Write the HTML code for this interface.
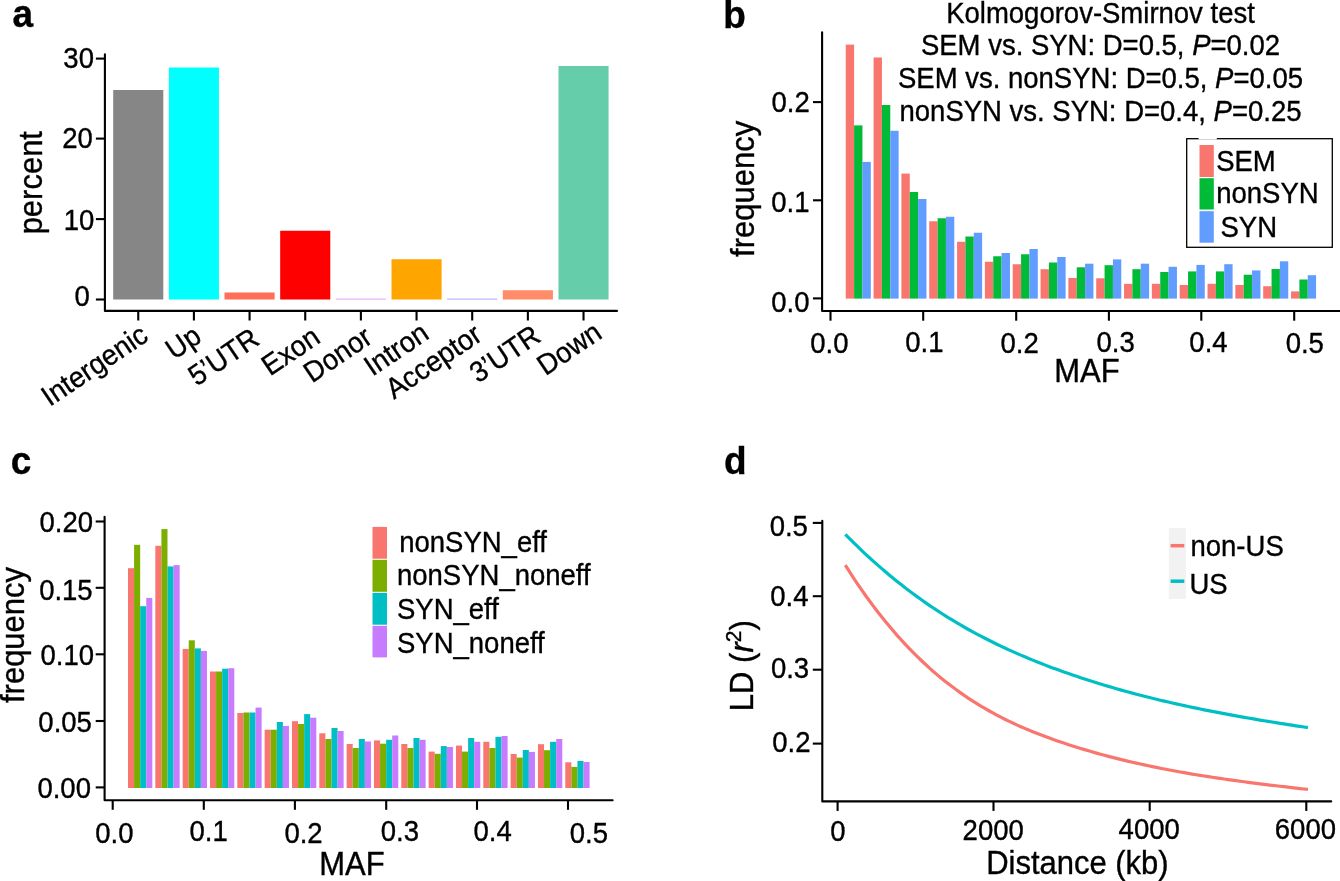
<!DOCTYPE html>
<html><head><meta charset="utf-8"><style>
html,body{margin:0;padding:0;background:#fff;width:1340px;height:881px;overflow:hidden}
svg{display:block;will-change:transform}
text{font-family:"Liberation Sans",sans-serif;fill:#000;stroke:#000;stroke-width:0.35px}
</style></head><body>
<svg width="1340" height="881" viewBox="0 0 1340 881">
<rect width="1340" height="881" fill="#fff"/>
<text transform="translate(12.50,27.48) scale(1,1.05)" font-size="37" text-anchor="start" font-weight="bold">a</text>
<path d="M104.90,54.40 L104.90,310.90 L617.00,310.90" fill="none" stroke="#000" stroke-width="2.1" stroke-linejoin="round" stroke-linecap="round"/>
<line x1="95.90" y1="299.50" x2="104.90" y2="299.50" stroke="#000" stroke-width="2.1" stroke-linecap="butt"/>
<text transform="translate(74.40,306.44) scale(1,1.05)" font-size="27.5" text-anchor="start" font-weight="normal">0</text>
<line x1="95.90" y1="219.10" x2="104.90" y2="219.10" stroke="#000" stroke-width="2.1" stroke-linecap="butt"/>
<text transform="translate(63.78,229.88) scale(1,1.05)" font-size="27.5" text-anchor="start" font-weight="normal">10</text>
<line x1="95.90" y1="138.60" x2="104.90" y2="138.60" stroke="#000" stroke-width="2.1" stroke-linecap="butt"/>
<text transform="translate(62.24,148.44) scale(1,1.05)" font-size="27.5" text-anchor="start" font-weight="normal">20</text>
<line x1="95.90" y1="58.60" x2="104.90" y2="58.60" stroke="#000" stroke-width="2.1" stroke-linecap="butt"/>
<text transform="translate(63.34,68.44) scale(1,1.05)" font-size="27.5" text-anchor="start" font-weight="normal">30</text>
<text transform="translate(41.80,182.70) rotate(-90) scale(1,1.05)" font-size="31" text-anchor="middle" font-weight="normal">percent</text>
<rect x="113.20" y="90.00" width="50.10" height="209.50" fill="#868686"/>
<line x1="138.25" y1="310.90" x2="138.25" y2="320.50" stroke="#000" stroke-width="2.1" stroke-linecap="butt"/>
<text font-size="27.5" text-anchor="end" transform="translate(138.75,323.00) rotate(-34) scale(1,1.05)" y="19">Intergenic</text>
<rect x="168.86" y="67.50" width="50.10" height="232.00" fill="#00FFFF"/>
<line x1="193.91" y1="310.90" x2="193.91" y2="320.50" stroke="#000" stroke-width="2.1" stroke-linecap="butt"/>
<text font-size="27.5" text-anchor="end" transform="translate(192.11,324.00) rotate(-34) scale(1,1.05)" y="19">Up</text>
<rect x="224.52" y="292.50" width="50.10" height="7.00" fill="#FF6E59"/>
<line x1="249.57" y1="310.90" x2="249.57" y2="320.50" stroke="#000" stroke-width="2.1" stroke-linecap="butt"/>
<text font-size="27.5" text-anchor="end" transform="translate(250.07,326.60) rotate(-34) scale(1,1.05)" y="19">5’UTR</text>
<rect x="280.18" y="230.75" width="50.10" height="68.75" fill="#FF0000"/>
<line x1="305.23" y1="310.90" x2="305.23" y2="320.50" stroke="#000" stroke-width="2.1" stroke-linecap="butt"/>
<text font-size="27.5" text-anchor="end" transform="translate(310.73,325.00) rotate(-34) scale(1,1.05)" y="19">Exon</text>
<rect x="335.84" y="298.60" width="50.10" height="1.00" fill="#E8A0F8"/>
<line x1="360.89" y1="310.90" x2="360.89" y2="320.50" stroke="#000" stroke-width="2.1" stroke-linecap="butt"/>
<text font-size="27.5" text-anchor="end" transform="translate(362.89,325.00) rotate(-34) scale(1,1.05)" y="19">Donor</text>
<rect x="391.50" y="259.25" width="50.10" height="40.25" fill="#FFA500"/>
<line x1="416.55" y1="310.90" x2="416.55" y2="320.50" stroke="#000" stroke-width="2.1" stroke-linecap="butt"/>
<text font-size="27.5" text-anchor="end" transform="translate(419.65,321.00) rotate(-34) scale(1,1.05)" y="19">Intron</text>
<rect x="447.16" y="298.60" width="50.10" height="1.00" fill="#A8A8FF"/>
<line x1="472.21" y1="310.90" x2="472.21" y2="320.50" stroke="#000" stroke-width="2.1" stroke-linecap="butt"/>
<text font-size="27.5" text-anchor="end" transform="translate(472.71,322.50) rotate(-34) scale(1,1.05)" y="19">Acceptor</text>
<rect x="502.82" y="290.25" width="50.10" height="9.25" fill="#FF8C69"/>
<line x1="527.87" y1="310.90" x2="527.87" y2="320.50" stroke="#000" stroke-width="2.1" stroke-linecap="butt"/>
<text font-size="27.5" text-anchor="end" transform="translate(531.37,323.70) rotate(-34) scale(1,1.05)" y="19">3’UTR</text>
<rect x="558.48" y="66.00" width="50.10" height="233.50" fill="#66CDAA"/>
<line x1="583.53" y1="310.90" x2="583.53" y2="320.50" stroke="#000" stroke-width="2.1" stroke-linecap="butt"/>
<text font-size="27.5" text-anchor="end" transform="translate(592.53,320.40) rotate(-34) scale(1,1.05)" y="19">Down</text>
<text transform="translate(723.32,27.50) scale(1,1.05)" font-size="37" text-anchor="start" font-weight="bold">b</text>
<path d="M822.10,32.20 L822.10,310.95 L1341.00,310.95" fill="none" stroke="#000" stroke-width="2.1" stroke-linejoin="round" stroke-linecap="round"/>
<line x1="813.00" y1="298.40" x2="822.10" y2="298.40" stroke="#000" stroke-width="2.1" stroke-linecap="butt"/>
<text transform="translate(771.32,312.00) scale(1,1.05)" font-size="27.5" text-anchor="start" font-weight="normal">0.0</text>
<line x1="813.00" y1="200.30" x2="822.10" y2="200.30" stroke="#000" stroke-width="2.1" stroke-linecap="butt"/>
<text transform="translate(771.24,212.00) scale(1,1.05)" font-size="27.5" text-anchor="start" font-weight="normal">0.1</text>
<line x1="813.00" y1="102.10" x2="822.10" y2="102.10" stroke="#000" stroke-width="2.1" stroke-linecap="butt"/>
<text transform="translate(771.52,111.66) scale(1,1.05)" font-size="27.5" text-anchor="start" font-weight="normal">0.2</text>
<line x1="830.50" y1="310.95" x2="830.50" y2="320.70" stroke="#000" stroke-width="2.1" stroke-linecap="butt"/>
<text transform="translate(810.32,353.34) scale(1,1.05)" font-size="27.5" text-anchor="start" font-weight="normal">0.0</text>
<line x1="923.20" y1="310.95" x2="923.20" y2="320.70" stroke="#000" stroke-width="2.1" stroke-linecap="butt"/>
<text transform="translate(905.24,351.88) scale(1,1.05)" font-size="27.5" text-anchor="start" font-weight="normal">0.1</text>
<line x1="1016.20" y1="310.95" x2="1016.20" y2="320.70" stroke="#000" stroke-width="2.1" stroke-linecap="butt"/>
<text transform="translate(1000.46,353.34) scale(1,1.05)" font-size="27.5" text-anchor="start" font-weight="normal">0.2</text>
<line x1="1108.90" y1="310.95" x2="1108.90" y2="320.70" stroke="#000" stroke-width="2.1" stroke-linecap="butt"/>
<text transform="translate(1096.48,351.56) scale(1,1.05)" font-size="27.5" text-anchor="start" font-weight="normal">0.3</text>
<line x1="1201.30" y1="310.95" x2="1201.30" y2="320.70" stroke="#000" stroke-width="2.1" stroke-linecap="butt"/>
<text transform="translate(1189.34,352.12) scale(1,1.05)" font-size="27.5" text-anchor="start" font-weight="normal">0.4</text>
<line x1="1294.20" y1="310.95" x2="1294.20" y2="320.70" stroke="#000" stroke-width="2.1" stroke-linecap="butt"/>
<text transform="translate(1285.66,353.34) scale(1,1.05)" font-size="27.5" text-anchor="start" font-weight="normal">0.5</text>
<text transform="translate(1087.00,381.70) scale(1,1.05)" font-size="31" text-anchor="middle" font-weight="normal">MAF</text>
<text transform="translate(753.70,188.90) rotate(-90) scale(1,1.05)" font-size="31" text-anchor="middle" font-weight="normal">frequency</text>
<rect x="845.75" y="44.60" width="8.35" height="254.00" fill="#F8766D"/>
<rect x="854.10" y="125.40" width="8.35" height="173.20" fill="#00BA38"/>
<rect x="862.45" y="161.90" width="8.35" height="136.70" fill="#619CFF"/>
<rect x="873.58" y="57.50" width="8.35" height="241.10" fill="#F8766D"/>
<rect x="881.93" y="105.00" width="8.35" height="193.60" fill="#00BA38"/>
<rect x="890.28" y="130.80" width="8.35" height="167.80" fill="#619CFF"/>
<rect x="901.41" y="173.60" width="8.35" height="125.00" fill="#F8766D"/>
<rect x="909.76" y="192.00" width="8.35" height="106.60" fill="#00BA38"/>
<rect x="918.11" y="199.00" width="8.35" height="99.60" fill="#619CFF"/>
<rect x="929.24" y="221.25" width="8.35" height="77.35" fill="#F8766D"/>
<rect x="937.59" y="218.25" width="8.35" height="80.35" fill="#00BA38"/>
<rect x="945.94" y="216.75" width="8.35" height="81.85" fill="#619CFF"/>
<rect x="957.07" y="241.75" width="8.35" height="56.85" fill="#F8766D"/>
<rect x="965.42" y="236.50" width="8.35" height="62.10" fill="#00BA38"/>
<rect x="973.77" y="232.75" width="8.35" height="65.85" fill="#619CFF"/>
<rect x="984.90" y="261.75" width="8.35" height="36.85" fill="#F8766D"/>
<rect x="993.25" y="256.25" width="8.35" height="42.35" fill="#00BA38"/>
<rect x="1001.60" y="253.00" width="8.35" height="45.60" fill="#619CFF"/>
<rect x="1012.73" y="264.25" width="8.35" height="34.35" fill="#F8766D"/>
<rect x="1021.08" y="254.25" width="8.35" height="44.35" fill="#00BA38"/>
<rect x="1029.43" y="249.00" width="8.35" height="49.60" fill="#619CFF"/>
<rect x="1040.56" y="269.20" width="8.35" height="29.40" fill="#F8766D"/>
<rect x="1048.91" y="262.50" width="8.35" height="36.10" fill="#00BA38"/>
<rect x="1057.26" y="257.00" width="8.35" height="41.60" fill="#619CFF"/>
<rect x="1068.39" y="278.00" width="8.35" height="20.60" fill="#F8766D"/>
<rect x="1076.74" y="267.30" width="8.35" height="31.30" fill="#00BA38"/>
<rect x="1085.09" y="263.70" width="8.35" height="34.90" fill="#619CFF"/>
<rect x="1096.22" y="278.30" width="8.35" height="20.30" fill="#F8766D"/>
<rect x="1104.57" y="265.20" width="8.35" height="33.40" fill="#00BA38"/>
<rect x="1112.92" y="259.40" width="8.35" height="39.20" fill="#619CFF"/>
<rect x="1124.05" y="283.80" width="8.35" height="14.80" fill="#F8766D"/>
<rect x="1132.40" y="269.20" width="8.35" height="29.40" fill="#00BA38"/>
<rect x="1140.75" y="263.70" width="8.35" height="34.90" fill="#619CFF"/>
<rect x="1151.88" y="283.80" width="8.35" height="14.80" fill="#F8766D"/>
<rect x="1160.23" y="272.00" width="8.35" height="26.60" fill="#00BA38"/>
<rect x="1168.58" y="266.80" width="8.35" height="31.80" fill="#619CFF"/>
<rect x="1179.71" y="285.00" width="8.35" height="13.60" fill="#F8766D"/>
<rect x="1188.06" y="271.40" width="8.35" height="27.20" fill="#00BA38"/>
<rect x="1196.41" y="264.90" width="8.35" height="33.70" fill="#619CFF"/>
<rect x="1207.54" y="283.80" width="8.35" height="14.80" fill="#F8766D"/>
<rect x="1215.89" y="271.40" width="8.35" height="27.20" fill="#00BA38"/>
<rect x="1224.24" y="264.20" width="8.35" height="34.40" fill="#619CFF"/>
<rect x="1235.37" y="285.00" width="8.35" height="13.60" fill="#F8766D"/>
<rect x="1243.72" y="274.70" width="8.35" height="23.90" fill="#00BA38"/>
<rect x="1252.07" y="270.40" width="8.35" height="28.20" fill="#619CFF"/>
<rect x="1263.20" y="286.20" width="8.35" height="12.40" fill="#F8766D"/>
<rect x="1271.55" y="269.00" width="8.35" height="29.60" fill="#00BA38"/>
<rect x="1279.90" y="261.30" width="8.35" height="37.30" fill="#619CFF"/>
<rect x="1291.03" y="291.40" width="8.35" height="7.20" fill="#F8766D"/>
<rect x="1299.38" y="279.50" width="8.35" height="19.10" fill="#00BA38"/>
<rect x="1307.73" y="275.20" width="8.35" height="23.40" fill="#619CFF"/>
<text transform="translate(1100.50,22.70) scale(1,1.05)" font-size="27.5" text-anchor="middle" font-weight="normal">Kolmogorov-Smirnov test</text>
<text transform="translate(1100.50,55.00) scale(1,1.05)" font-size="27.5" text-anchor="middle" font-weight="normal">SEM vs. SYN: D=0.5, <tspan font-style="italic">P</tspan>=0.02</text>
<text transform="translate(1100.50,87.90) scale(1,1.05)" font-size="27.5" text-anchor="middle" font-weight="normal">SEM vs. nonSYN: D=0.5, <tspan font-style="italic">P</tspan>=0.05</text>
<text transform="translate(1100.50,120.60) scale(1,1.05)" font-size="27.5" text-anchor="middle" font-weight="normal">nonSYN vs. SYN: D=0.4, <tspan font-style="italic">P</tspan>=0.25</text>
<rect x="1186.7" y="138.7" width="145.6" height="108.6" fill="#fff" stroke="#000" stroke-width="1.3"/>
<rect x="1198.60" y="137.50" width="18.20" height="2.00" fill="#fff"/>
<rect x="1199.50" y="145.00" width="14.30" height="32.00" fill="#F8766D"/>
<text transform="translate(1216.20,171.10) scale(1,1.05)" font-size="27.5" text-anchor="start" font-weight="normal">SEM</text>
<rect x="1199.50" y="178.20" width="14.30" height="31.30" fill="#00BA38"/>
<text transform="translate(1216.20,202.60) scale(1,1.05)" font-size="27.5" text-anchor="start" font-weight="normal">nonSYN</text>
<rect x="1199.50" y="211.20" width="14.30" height="31.50" fill="#619CFF"/>
<text transform="translate(1220.50,236.80) scale(1,1.05)" font-size="27.5" text-anchor="start" font-weight="normal">SYN</text>
<text transform="translate(10.76,473.96) scale(1,1.05)" font-size="37" text-anchor="start" font-weight="bold">c</text>
<path d="M104.60,516.80 L104.60,800.20 L612.60,800.20" fill="none" stroke="#000" stroke-width="2.1" stroke-linejoin="round" stroke-linecap="round"/>
<line x1="95.70" y1="787.40" x2="104.60" y2="787.40" stroke="#000" stroke-width="2.1" stroke-linecap="butt"/>
<text transform="translate(37.44,797.66) scale(1,1.05)" font-size="27.5" text-anchor="start" font-weight="normal">0.00</text>
<line x1="95.70" y1="721.00" x2="104.60" y2="721.00" stroke="#000" stroke-width="2.1" stroke-linecap="butt"/>
<text transform="translate(38.34,731.66) scale(1,1.05)" font-size="27.5" text-anchor="start" font-weight="normal">0.05</text>
<line x1="95.70" y1="654.30" x2="104.60" y2="654.30" stroke="#000" stroke-width="2.1" stroke-linecap="butt"/>
<text transform="translate(40.48,664.88) scale(1,1.05)" font-size="27.5" text-anchor="start" font-weight="normal">0.10</text>
<line x1="95.70" y1="587.80" x2="104.60" y2="587.80" stroke="#000" stroke-width="2.1" stroke-linecap="butt"/>
<text transform="translate(39.14,600.22) scale(1,1.05)" font-size="27.5" text-anchor="start" font-weight="normal">0.15</text>
<line x1="95.70" y1="521.50" x2="104.60" y2="521.50" stroke="#000" stroke-width="2.1" stroke-linecap="butt"/>
<text transform="translate(39.46,531.88) scale(1,1.05)" font-size="27.5" text-anchor="start" font-weight="normal">0.20</text>
<line x1="112.70" y1="800.20" x2="112.70" y2="809.80" stroke="#000" stroke-width="2.1" stroke-linecap="butt"/>
<text transform="translate(95.22,843.12) scale(1,1.05)" font-size="27.5" text-anchor="start" font-weight="normal">0.0</text>
<line x1="203.80" y1="800.20" x2="203.80" y2="809.80" stroke="#000" stroke-width="2.1" stroke-linecap="butt"/>
<text transform="translate(189.58,841.10) scale(1,1.05)" font-size="27.5" text-anchor="start" font-weight="normal">0.1</text>
<line x1="294.90" y1="800.20" x2="294.90" y2="809.80" stroke="#000" stroke-width="2.1" stroke-linecap="butt"/>
<text transform="translate(284.40,843.12) scale(1,1.05)" font-size="27.5" text-anchor="start" font-weight="normal">0.2</text>
<line x1="386.20" y1="800.20" x2="386.20" y2="809.80" stroke="#000" stroke-width="2.1" stroke-linecap="butt"/>
<text transform="translate(380.74,841.10) scale(1,1.05)" font-size="27.5" text-anchor="start" font-weight="normal">0.3</text>
<line x1="477.00" y1="800.20" x2="477.00" y2="809.80" stroke="#000" stroke-width="2.1" stroke-linecap="butt"/>
<text transform="translate(473.52,841.10) scale(1,1.05)" font-size="27.5" text-anchor="start" font-weight="normal">0.4</text>
<line x1="568.00" y1="800.20" x2="568.00" y2="809.80" stroke="#000" stroke-width="2.1" stroke-linecap="butt"/>
<text transform="translate(569.80,843.12) scale(1,1.05)" font-size="27.5" text-anchor="start" font-weight="normal">0.5</text>
<text transform="translate(352.00,875.20) scale(1,1.05)" font-size="31" text-anchor="middle" font-weight="normal">MAF</text>
<text transform="translate(24.00,635.00) rotate(-90) scale(1,1.05)" font-size="31" text-anchor="middle" font-weight="normal">frequency</text>
<rect x="128.00" y="568.20" width="6.08" height="219.80" fill="#F8766D"/>
<rect x="134.08" y="544.80" width="6.08" height="243.20" fill="#7CAE00"/>
<rect x="140.16" y="606.20" width="6.08" height="181.80" fill="#00BFC4"/>
<rect x="146.24" y="597.90" width="6.08" height="190.10" fill="#C77CFF"/>
<rect x="155.33" y="545.80" width="6.08" height="242.20" fill="#F8766D"/>
<rect x="161.41" y="529.10" width="6.08" height="258.90" fill="#7CAE00"/>
<rect x="167.49" y="566.40" width="6.08" height="221.60" fill="#00BFC4"/>
<rect x="173.57" y="565.10" width="6.08" height="222.90" fill="#C77CFF"/>
<rect x="182.66" y="648.90" width="6.08" height="139.10" fill="#F8766D"/>
<rect x="188.74" y="640.30" width="6.08" height="147.70" fill="#7CAE00"/>
<rect x="194.82" y="648.40" width="6.08" height="139.60" fill="#00BFC4"/>
<rect x="200.90" y="650.90" width="6.08" height="137.10" fill="#C77CFF"/>
<rect x="209.99" y="671.50" width="6.08" height="116.50" fill="#F8766D"/>
<rect x="216.07" y="671.50" width="6.08" height="116.50" fill="#7CAE00"/>
<rect x="222.15" y="668.70" width="6.08" height="119.30" fill="#00BFC4"/>
<rect x="228.23" y="668.20" width="6.08" height="119.80" fill="#C77CFF"/>
<rect x="237.32" y="713.00" width="6.08" height="75.00" fill="#F8766D"/>
<rect x="243.40" y="712.50" width="6.08" height="75.50" fill="#7CAE00"/>
<rect x="249.48" y="712.50" width="6.08" height="75.50" fill="#00BFC4"/>
<rect x="255.56" y="707.60" width="6.08" height="80.40" fill="#C77CFF"/>
<rect x="264.65" y="729.70" width="6.08" height="58.30" fill="#F8766D"/>
<rect x="270.73" y="729.70" width="6.08" height="58.30" fill="#7CAE00"/>
<rect x="276.81" y="722.00" width="6.08" height="66.00" fill="#00BFC4"/>
<rect x="282.89" y="725.90" width="6.08" height="62.10" fill="#C77CFF"/>
<rect x="291.98" y="721.20" width="6.08" height="66.80" fill="#F8766D"/>
<rect x="298.06" y="724.00" width="6.08" height="64.00" fill="#7CAE00"/>
<rect x="304.14" y="714.10" width="6.08" height="73.90" fill="#00BFC4"/>
<rect x="310.22" y="717.70" width="6.08" height="70.30" fill="#C77CFF"/>
<rect x="319.31" y="733.30" width="6.08" height="54.70" fill="#F8766D"/>
<rect x="325.39" y="739.00" width="6.08" height="49.00" fill="#7CAE00"/>
<rect x="331.47" y="728.00" width="6.08" height="60.00" fill="#00BFC4"/>
<rect x="337.55" y="731.00" width="6.08" height="57.00" fill="#C77CFF"/>
<rect x="346.64" y="744.00" width="6.08" height="44.00" fill="#F8766D"/>
<rect x="352.72" y="748.00" width="6.08" height="40.00" fill="#7CAE00"/>
<rect x="358.80" y="739.00" width="6.08" height="49.00" fill="#00BFC4"/>
<rect x="364.88" y="741.50" width="6.08" height="46.50" fill="#C77CFF"/>
<rect x="373.97" y="740.40" width="6.08" height="47.60" fill="#F8766D"/>
<rect x="380.05" y="743.70" width="6.08" height="44.30" fill="#7CAE00"/>
<rect x="386.13" y="739.80" width="6.08" height="48.20" fill="#00BFC4"/>
<rect x="392.21" y="735.50" width="6.08" height="52.50" fill="#C77CFF"/>
<rect x="401.30" y="744.00" width="6.08" height="44.00" fill="#F8766D"/>
<rect x="407.38" y="748.00" width="6.08" height="40.00" fill="#7CAE00"/>
<rect x="413.46" y="738.00" width="6.08" height="50.00" fill="#00BFC4"/>
<rect x="419.54" y="739.80" width="6.08" height="48.20" fill="#C77CFF"/>
<rect x="428.63" y="751.60" width="6.08" height="36.40" fill="#F8766D"/>
<rect x="434.71" y="753.80" width="6.08" height="34.20" fill="#7CAE00"/>
<rect x="440.79" y="746.10" width="6.08" height="41.90" fill="#00BFC4"/>
<rect x="446.87" y="747.00" width="6.08" height="41.00" fill="#C77CFF"/>
<rect x="455.96" y="745.60" width="6.08" height="42.40" fill="#F8766D"/>
<rect x="462.04" y="751.60" width="6.08" height="36.40" fill="#7CAE00"/>
<rect x="468.12" y="738.00" width="6.08" height="50.00" fill="#00BFC4"/>
<rect x="474.20" y="741.80" width="6.08" height="46.20" fill="#C77CFF"/>
<rect x="483.29" y="741.80" width="6.08" height="46.20" fill="#F8766D"/>
<rect x="489.37" y="748.00" width="6.08" height="40.00" fill="#7CAE00"/>
<rect x="495.45" y="736.80" width="6.08" height="51.20" fill="#00BFC4"/>
<rect x="501.53" y="736.00" width="6.08" height="52.00" fill="#C77CFF"/>
<rect x="510.62" y="754.00" width="6.08" height="34.00" fill="#F8766D"/>
<rect x="516.70" y="757.60" width="6.08" height="30.40" fill="#7CAE00"/>
<rect x="522.78" y="750.00" width="6.08" height="38.00" fill="#00BFC4"/>
<rect x="528.86" y="751.90" width="6.08" height="36.10" fill="#C77CFF"/>
<rect x="537.95" y="744.20" width="6.08" height="43.80" fill="#F8766D"/>
<rect x="544.03" y="750.20" width="6.08" height="37.80" fill="#7CAE00"/>
<rect x="550.11" y="741.80" width="6.08" height="46.20" fill="#00BFC4"/>
<rect x="556.19" y="739.00" width="6.08" height="49.00" fill="#C77CFF"/>
<rect x="565.28" y="762.30" width="6.08" height="25.70" fill="#F8766D"/>
<rect x="571.36" y="766.90" width="6.08" height="21.10" fill="#7CAE00"/>
<rect x="577.44" y="760.90" width="6.08" height="27.10" fill="#00BFC4"/>
<rect x="583.52" y="762.00" width="6.08" height="26.00" fill="#C77CFF"/>
<rect x="372.50" y="526.90" width="14.50" height="31.80" fill="#F8766D"/>
<text transform="translate(399.20,551.50) scale(1,1.05)" font-size="27.5" text-anchor="start" font-weight="normal">nonSYN_eff</text>
<rect x="372.50" y="559.80" width="14.50" height="32.00" fill="#7CAE00"/>
<text transform="translate(397.00,584.60) scale(1,1.05)" font-size="27.5" text-anchor="start" font-weight="normal">nonSYN_noneff</text>
<rect x="372.50" y="592.90" width="14.50" height="31.80" fill="#00BFC4"/>
<text transform="translate(397.00,618.50) scale(1,1.05)" font-size="27.5" text-anchor="start" font-weight="normal">SYN_eff</text>
<rect x="372.50" y="625.80" width="14.50" height="31.60" fill="#C77CFF"/>
<text transform="translate(397.00,653.30) scale(1,1.05)" font-size="27.5" text-anchor="start" font-weight="normal">SYN_noneff</text>
<text transform="translate(723.88,473.98) scale(1,1.05)" font-size="37" text-anchor="start" font-weight="bold">d</text>
<path d="M822.30,520.80 L822.30,801.40 L1331.20,801.40" fill="none" stroke="#000" stroke-width="2.1" stroke-linejoin="round" stroke-linecap="round"/>
<line x1="812.80" y1="743.60" x2="822.30" y2="743.60" stroke="#000" stroke-width="2.1" stroke-linecap="butt"/>
<text transform="translate(772.30,752.44) scale(1,1.05)" font-size="27.5" text-anchor="start" font-weight="normal">0.2</text>
<line x1="812.80" y1="669.70" x2="822.30" y2="669.70" stroke="#000" stroke-width="2.1" stroke-linecap="butt"/>
<text transform="translate(770.90,678.00) scale(1,1.05)" font-size="27.5" text-anchor="start" font-weight="normal">0.3</text>
<line x1="812.80" y1="596.20" x2="822.30" y2="596.20" stroke="#000" stroke-width="2.1" stroke-linecap="butt"/>
<text transform="translate(770.26,606.12) scale(1,1.05)" font-size="27.5" text-anchor="start" font-weight="normal">0.4</text>
<line x1="812.80" y1="522.90" x2="822.30" y2="522.90" stroke="#000" stroke-width="2.1" stroke-linecap="butt"/>
<text transform="translate(769.66,535.88) scale(1,1.05)" font-size="27.5" text-anchor="start" font-weight="normal">0.5</text>
<line x1="837.60" y1="801.40" x2="837.60" y2="810.90" stroke="#000" stroke-width="2.1" stroke-linecap="butt"/>
<text transform="translate(830.26,841.10) scale(1,1.05)" font-size="27.5" text-anchor="start" font-weight="normal">0</text>
<line x1="993.50" y1="801.40" x2="993.50" y2="810.90" stroke="#000" stroke-width="2.1" stroke-linecap="butt"/>
<text transform="translate(962.60,840.34) scale(1,1.05)" font-size="27.5" text-anchor="start" font-weight="normal">2000</text>
<line x1="1149.70" y1="801.40" x2="1149.70" y2="810.90" stroke="#000" stroke-width="2.1" stroke-linecap="butt"/>
<text transform="translate(1118.62,838.88) scale(1,1.05)" font-size="27.5" text-anchor="start" font-weight="normal">4000</text>
<line x1="1306.30" y1="801.40" x2="1306.30" y2="810.90" stroke="#000" stroke-width="2.1" stroke-linecap="butt"/>
<text transform="translate(1274.80,838.88) scale(1,1.05)" font-size="27.5" text-anchor="start" font-weight="normal">6000</text>
<text transform="translate(1077.40,873.90) scale(1,1.05)" font-size="31" text-anchor="middle" font-weight="normal">Distance (kb)</text>
<text font-size="31" text-anchor="middle" transform="translate(753.4,665.7) rotate(-90) scale(1,1.05)">LD (<tspan font-style="italic">r</tspan><tspan font-size="21" dy="-11.5">2</tspan><tspan dy="11.5">)</tspan></text>
<path d="M845.3,534.28 L849.3,538.33 L853.3,542.31 L857.3,546.21 L861.3,550.04 L865.2,553.80 L869.2,557.50 L873.2,561.12 L877.2,564.67 L881.2,568.15 L885.2,571.57 L889.2,574.93 L893.2,578.22 L897.1,581.44 L901.1,584.61 L905.1,587.71 L909.1,590.75 L913.1,593.73 L917.1,596.65 L921.1,599.52 L925.1,602.32 L929.0,605.08 L933.0,607.77 L937.0,610.42 L941.0,613.01 L945.0,615.54 L949.0,618.03 L953.0,620.47 L957.0,622.86 L961.0,625.19 L964.9,627.49 L968.9,629.73 L972.9,631.93 L976.9,634.09 L980.9,636.20 L984.9,638.27 L988.9,640.30 L992.9,642.29 L996.8,644.23 L1000.8,646.14 L1004.8,648.02 L1008.8,649.85 L1012.8,651.65 L1016.8,653.41 L1020.8,655.14 L1024.8,656.84 L1028.7,658.51 L1032.7,660.14 L1036.7,661.74 L1040.7,663.32 L1044.7,664.87 L1048.7,666.39 L1052.7,667.88 L1056.7,669.35 L1060.6,670.79 L1064.6,672.21 L1068.6,673.61 L1072.6,674.98 L1076.6,676.34 L1080.6,677.67 L1084.6,678.98 L1088.6,680.27 L1092.6,681.53 L1096.5,682.78 L1100.5,684.01 L1104.5,685.21 L1108.5,686.40 L1112.5,687.57 L1116.5,688.72 L1120.5,689.85 L1124.5,690.96 L1128.4,692.05 L1132.4,693.13 L1136.4,694.18 L1140.4,695.23 L1144.4,696.25 L1148.4,697.26 L1152.4,698.25 L1156.4,699.23 L1160.3,700.19 L1164.3,701.13 L1168.3,702.06 L1172.3,702.98 L1176.3,703.88 L1180.3,704.76 L1184.3,705.64 L1188.3,706.50 L1192.2,707.35 L1196.2,708.18 L1200.2,709.00 L1204.2,709.81 L1208.2,710.61 L1212.2,711.40 L1216.2,712.17 L1220.2,712.94 L1224.2,713.69 L1228.1,714.43 L1232.1,715.17 L1236.1,715.89 L1240.1,716.61 L1244.1,717.31 L1248.1,718.01 L1252.1,718.70 L1256.1,719.38 L1260.0,720.05 L1264.0,720.72 L1268.0,721.38 L1272.0,722.03 L1276.0,722.68 L1280.0,723.32 L1284.0,723.95 L1288.0,724.58 L1291.9,725.20 L1295.9,725.82 L1299.9,726.43 L1303.9,727.04 L1307.9,727.65" fill="none" stroke="#00BFC4" stroke-width="3.2"/>
<path d="M845.3,565.18 L849.3,571.45 L853.3,577.56 L857.3,583.53 L861.3,589.34 L865.2,595.01 L869.2,600.54 L873.2,605.92 L877.2,611.16 L881.2,616.26 L885.2,621.23 L889.2,626.07 L893.2,630.77 L897.1,635.35 L901.1,639.80 L905.1,644.13 L909.1,648.34 L913.1,652.43 L917.1,656.40 L921.1,660.26 L925.1,664.01 L929.0,667.65 L933.0,671.18 L937.0,674.61 L941.0,677.94 L945.0,681.16 L949.0,684.29 L953.0,687.32 L957.0,690.27 L961.0,693.12 L964.9,695.88 L968.9,698.56 L972.9,701.15 L976.9,703.67 L980.9,706.10 L984.9,708.46 L988.9,710.75 L992.9,712.96 L996.8,715.11 L1000.8,717.19 L1004.8,719.21 L1008.8,721.16 L1012.8,723.05 L1016.8,724.89 L1020.8,726.67 L1024.8,728.40 L1028.7,730.08 L1032.7,731.72 L1036.7,733.30 L1040.7,734.85 L1044.7,736.35 L1048.7,737.82 L1052.7,739.25 L1056.7,740.65 L1060.6,742.01 L1064.6,743.35 L1068.6,744.66 L1072.6,745.94 L1076.6,747.20 L1080.6,748.43 L1084.6,749.64 L1088.6,750.82 L1092.6,751.97 L1096.5,753.10 L1100.5,754.21 L1104.5,755.29 L1108.5,756.35 L1112.5,757.39 L1116.5,758.41 L1120.5,759.40 L1124.5,760.37 L1128.4,761.33 L1132.4,762.26 L1136.4,763.17 L1140.4,764.06 L1144.4,764.93 L1148.4,765.79 L1152.4,766.62 L1156.4,767.44 L1160.3,768.24 L1164.3,769.02 L1168.3,769.79 L1172.3,770.54 L1176.3,771.28 L1180.3,772.00 L1184.3,772.70 L1188.3,773.39 L1192.2,774.07 L1196.2,774.73 L1200.2,775.38 L1204.2,776.01 L1208.2,776.64 L1212.2,777.25 L1216.2,777.85 L1220.2,778.44 L1224.2,779.02 L1228.1,779.59 L1232.1,780.14 L1236.1,780.69 L1240.1,781.23 L1244.1,781.77 L1248.1,782.29 L1252.1,782.81 L1256.1,783.31 L1260.0,783.82 L1264.0,784.31 L1268.0,784.80 L1272.0,785.29 L1276.0,785.76 L1280.0,786.24 L1284.0,786.71 L1288.0,787.18 L1291.9,787.64 L1295.9,788.10 L1299.9,788.56 L1303.9,789.01 L1307.9,789.46" fill="none" stroke="#F8766D" stroke-width="3.2"/>
<rect x="1168.80" y="527.90" width="17.20" height="71.10" fill="#F2F2F2"/>
<line x1="1170.60" y1="545.70" x2="1184.30" y2="545.70" stroke="#F8766D" stroke-width="3.5" stroke-linecap="butt"/>
<line x1="1170.60" y1="581.20" x2="1184.30" y2="581.20" stroke="#00BFC4" stroke-width="3.5" stroke-linecap="butt"/>
<text transform="translate(1190.50,556.10) scale(1,1.05)" font-size="27.5" text-anchor="start" font-weight="normal">non-US</text>
<text transform="translate(1189.50,594.20) scale(1,1.05)" font-size="27.5" text-anchor="start" font-weight="normal">US</text>
</svg></body></html>
